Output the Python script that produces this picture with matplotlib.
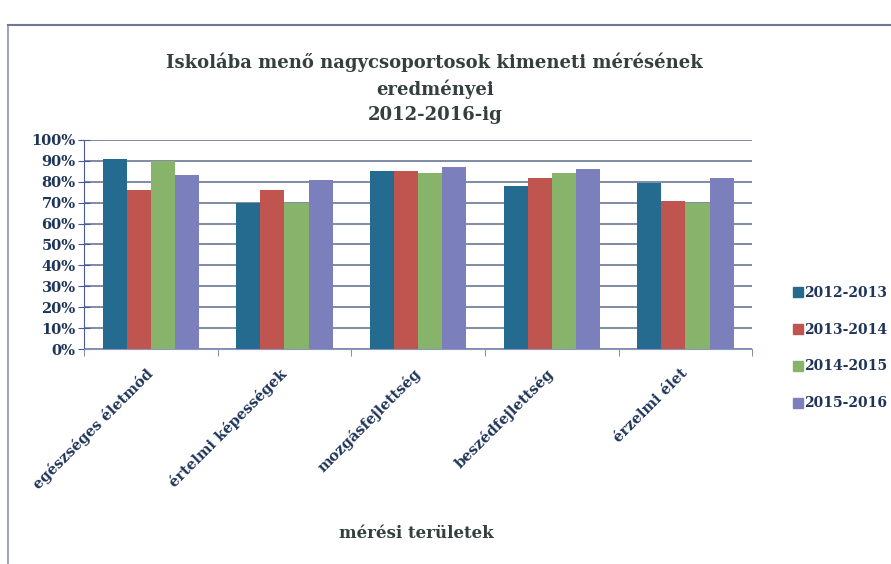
import numpy as np
import matplotlib
matplotlib.use("Agg")
import matplotlib.pyplot as plt
from matplotlib.lines import Line2D

# Data
categories = ["egészséges életmód", "értelmi képességek", "mozgásfejlettség",
              "beszédfejlettség", "érzelmi élet"]
years = ["2012-2013", "2013-2014", "2014-2015", "2015-2016"]
v_2012_2013 = [91, 70, 85, 78, 79.5]
v_2013_2014 = [76, 76, 85, 82, 71]
v_2014_2015 = [90, 70, 84, 84, 70]
v_2015_2016 = [83, 81, 87, 86, 82]
series = [v_2012_2013, v_2013_2014, v_2014_2015, v_2015_2016]
yticks = list(range(0, 101, 10))

colors = ["#246b8f", "#c0554f", "#87b46a", "#7b7fbc"]
text_col = "#1f3558"
title_col = "#343f3f"
serif = "DejaVu Serif"

fig = plt.figure(figsize=(8.91, 5.64), dpi=100)
ax = fig.add_axes([0.0943, 0.381, 0.750, 0.371])

x = np.arange(len(categories))
w = 0.18
for i, (vals, c) in enumerate(zip(series, colors)):
    ax.bar(x + (i - 1.5) * w, vals, width=w, color=c, zorder=3, label=years[i])

ax.set_xlim(-0.5, len(categories) - 0.5)
ax.set_ylim(0, 100)
ax.set_yticks(yticks)
ax.set_yticklabels([f"{t}%" for t in yticks], fontsize=10.5, fontweight="bold",
                   family=serif, color=text_col)
ax.yaxis.grid(True, color="#5d6b8c", linewidth=1.1, zorder=0)
ax.tick_params(axis="y", direction="inout", length=8, color="#4a5a9a", pad=2)

ax.set_xticks(x)
ax.set_xticklabels(categories, rotation=45, ha="right", va="center",
                   rotation_mode="anchor", fontsize=10.5, fontweight="bold",
                   family=serif, color=text_col)
ax.set_xticks(np.arange(-0.5, len(categories)), minor=True)
ax.tick_params(axis="x", which="major", length=0, pad=16)
ax.tick_params(axis="x", which="minor", length=5, color="#6a78a8", direction="out")

for s in ["top", "right"]:
    ax.spines[s].set_visible(False)
ax.spines["left"].set_color("#4a5a9a")
ax.spines["bottom"].set_color("#8a95c0")

fig.text(0.488, 1 - 88 / 564, "Iskolába menő nagycsoportosok kimeneti mérésének\neredményei\n2012-2016-ig",
         ha="center", va="center", fontsize=13, fontweight="bold", family=serif,
         color=title_col, linespacing=1.5)
fig.text(416 / 891, 1 - 533 / 564, "mérési területek", ha="center", va="center",
         fontsize=12, fontweight="bold", family=serif, color=title_col)

handles = [Line2D([], [], marker="s", linestyle="none", markersize=6.5, color=c) for c in colors]
fig.legend(handles, years, loc="center left", bbox_to_anchor=(787 / 891, 1 - 348 / 564),
           frameon=False, handlelength=0.6, handletextpad=0.15, labelspacing=1.65,
           borderpad=0, prop={"family": serif, "weight": "bold", "size": 10},
           labelcolor=text_col)

# frame border of the scanned chart
fig.add_artist(Line2D([8 / 891, 8 / 891], [0, 1 - 25 / 564], transform=fig.transFigure,
                      color="#8a94b8", linewidth=1.2))
fig.add_artist(Line2D([8 / 891, 1], [1 - 25 / 564, 1 - 25 / 564], transform=fig.transFigure,
                      color="#6d7a96", linewidth=1.5))

fig.savefig("out.png", dpi=100)
